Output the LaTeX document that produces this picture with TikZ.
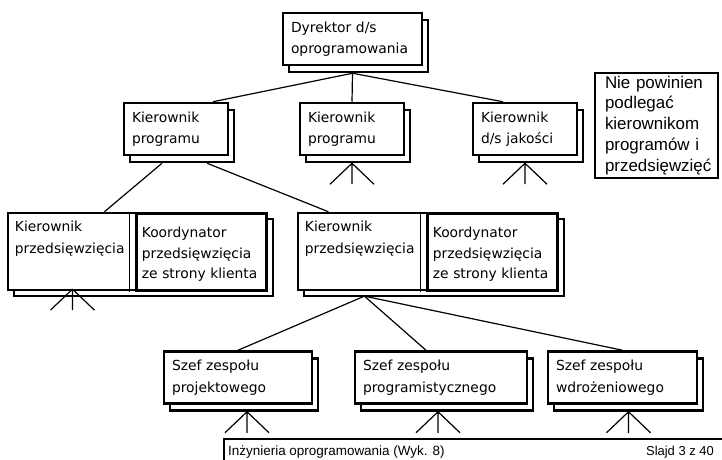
\documentclass[tikz,border=0pt]{standalone}
\usepackage{fontspec}
\setmainfont{DejaVu Sans}
\newfontfamily\boxfont{DejaVu Sans}
\newfontfamily\notefont{Liberation Sans}
\usetikzlibrary{positioning,shadows}

\begin{document}
\begin{tikzpicture}[x=1bp,y=-1bp,
    box/.style={draw,line width=2.5bp,fill=white,align=left,inner xsep=8bp,inner ysep=0pt,
      text width=#1,minimum height=52bp,font=\boxfont\fontsize{13.9}{21.5}\selectfont,
      copy shadow={shadow xshift=6bp,shadow yshift=-7bp}},
    grp/.style={draw,line width=2.5bp,fill=white,minimum width=#1,minimum height=77bp,
      inner sep=0pt,copy shadow={shadow xshift=6bp,shadow yshift=-6bp}},
    part/.style={align=left,inner xsep=8bp,inner ysep=0pt,text width=107bp,
      text height=20bp,text depth=57bp,font=\boxfont\fontsize{13.9}{22}\selectfont},
    koord/.style={draw,line width=2.8bp,align=left,inner xsep=5bp,inner ysep=0pt,
      text width=120bp,text height=24bp,text depth=53bp,font=\boxfont\fontsize{13.9}{21}\selectfont},
    conn/.style={line width=1.2bp},
    crow/.pic={\draw[conn] (0,0) -- (-22,21) (0,0) -- (0,21) (0,0) -- (22,21);}]
  \useasboundingbox (0,0) rectangle (722,460);

  % top of the tree
  \node[box=123bp] (dyr) at (352.5,39) {Dyrektor d/s\\oprogramowania};
  \node[box=88bp] (kpl) at (176,129) {Kierownik\\programu};
  \node[box=88bp] (kpm) at (352,129) {Kierownik\\programu};
  \node[box=88bp] (kj) at (525,129) {Kierownik\\d/s jakości};

  % project managers with client coordinators
  \node[grp=259bp] (grp1) at (137.5,251.5) {};
  \node[part,anchor=north west] (kps1) at (grp1.north west) {Kierownik\\przedsięwzięcia};
  \node[koord,anchor=north east] (koo1) at (grp1.north east) {Koordynator\\przedsięwzięcia\\\mbox{ze strony klienta}};
  \draw[conn] ([xshift=-6bp]koo1.north west) -- ([xshift=-6bp]koo1.south west);

  \node[grp=260bp] (grp2) at (428,251.5) {};
  \node[part,anchor=north west] (kps2) at (grp2.north west) {Kierownik\\przedsięwzięcia};
  \node[koord,anchor=north east] (koo2) at (grp2.north east) {Koordynator\\przedsięwzięcia\\\mbox{ze strony klienta}};
  \draw[conn] ([xshift=-6bp]koo2.north west) -- ([xshift=-6bp]koo2.south west);

  % team leaders
  \node[box=132bp] (sz1) at (238,377.5) {Szef zespołu\\projektowego};
  \node[box=156bp] (sz2) at (441,377.5) {Szef zespołu\\programistycznego};
  \node[box=133bp] (sz3) at (622.5,377.5) {Szef zespołu\\wdrożeniowego};

  \node[draw,line width=1.8bp,align=left,inner xsep=10bp,inner ysep=0pt,text width=103bp,
    minimum height=105bp,font=\notefont\fontsize{17}{21}\selectfont] (note) at (656.5,125.5)
    {Nie powinien\\podlegać\\kierownikom\\programów i\\przedsięwzięć};

  % connectors
  \coordinate (dyr-b) at ([yshift=-7bp]dyr.south);
  \draw[conn] (dyr-b) -- ([xshift=37bp]kpl.north);
  \draw[conn] (dyr-b) -- (kpm.north);
  \draw[conn] (dyr-b) -- ([xshift=-22bp]kj.north);
  \draw[conn] ([shift={(-14bp,-7bp)}]kpl.south) -- ([xshift=36bp]kps1.north);
  \draw[conn] ([shift={(31bp,-7bp)}]kpl.south) -- ([xshift=-30bp]kps2.north);
  \coordinate (kps2-b) at ([shift={(6bp,-7bp)}]kps2.south);
  \draw[conn] (kps2-b) -- (sz1.north);
  \draw[conn] (kps2-b) -- ([xshift=-15bp]sz2.north);
  \draw[conn] (kps2-b) -- (sz3.north);

  \pic at ([yshift=-7bp]kpm.south) {crow};
  \pic at ([yshift=-7bp]kj.south) {crow};
  \pic at ([xshift=4bp]kps1.south) {crow};
  \pic at ([shift={(9bp,-7bp)}]sz1.south) {crow};
  \pic at ([shift={(-3bp,-7bp)}]sz2.south) {crow};
  \pic at ([shift={(6bp,-7bp)}]sz3.south) {crow};

  % footer
  \node[draw,line width=1.8bp,anchor=north west,minimum width=520bp,minimum height=40bp] (foot) at (223,438) {};
  \node[anchor=base west,inner sep=0pt,font=\notefont\fontsize{13.5}{16}\selectfont] (ftl)
    at ([shift={(5bp,-17bp)}]foot.north west) {Inżynieria oprogramowania (Wyk. 8)};
  \node[anchor=base east,inner sep=0pt,font=\notefont\fontsize{13}{16}\selectfont] (ftr)
    at (714,455) {Slajd 3 z 40};
\end{tikzpicture}
\end{document}
